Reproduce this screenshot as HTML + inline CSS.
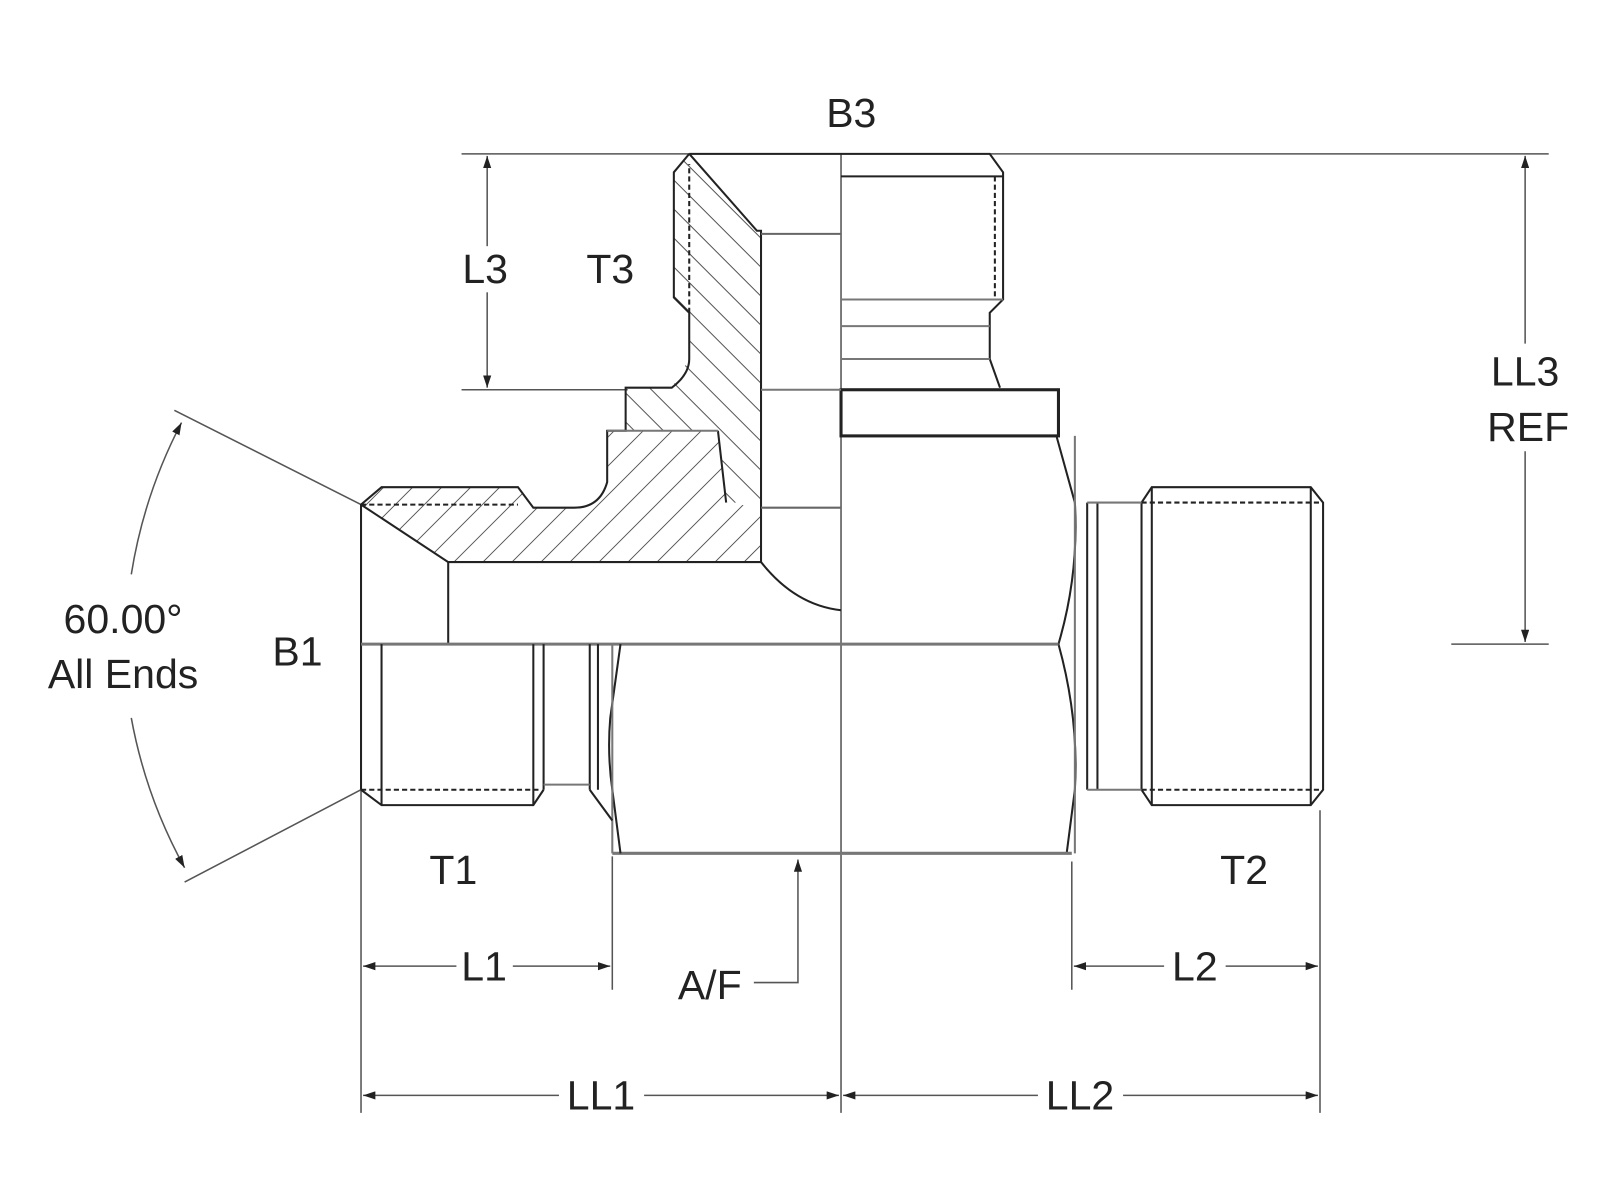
<!DOCTYPE html>
<html><head><meta charset="utf-8"><style>html,body{margin:0;padding:0;background:#fff}svg{display:block}text{font-family:"Liberation Sans",sans-serif;fill:#222}</style></head><body>
<svg width="1600" height="1200" viewBox="0 0 1560 1170" preserveAspectRatio="none">
<defs>
<pattern id="hA" patternUnits="userSpaceOnUse" width="20" height="20" patternTransform="rotate(-45)"><line x1="0" y1="0" x2="0" y2="20" stroke="#333" stroke-width="1.6"/></pattern>
<pattern id="hB" patternUnits="userSpaceOnUse" width="20" height="20" patternTransform="rotate(45)"><line x1="0" y1="0" x2="0" y2="20" stroke="#333" stroke-width="1.6"/></pattern>
<marker id="ar" markerWidth="12" markerHeight="8" refX="12" refY="4" orient="auto" markerUnits="userSpaceOnUse"><path d="M0,0 L12,4 L0,8 Z" fill="#222"/></marker>
</defs>
<g fill="none" stroke="#555" stroke-width="1.5">
<line x1="450" y1="150" x2="1510" y2="150"/>
<line x1="450" y1="380" x2="612" y2="380"/>
<line x1="820" y1="150" x2="820" y2="1085"/>
<line x1="1415" y1="628" x2="1510" y2="628"/>
<line x1="475" y1="240" x2="475" y2="152" marker-end="url(#ar)"/>
<line x1="475" y1="285" x2="475" y2="378" marker-end="url(#ar)"/>
<line x1="1487" y1="335" x2="1487" y2="152" marker-end="url(#ar)"/>
<line x1="1487" y1="440" x2="1487" y2="626" marker-end="url(#ar)"/>
<line x1="352" y1="770" x2="352" y2="1085"/>
<line x1="597" y1="835" x2="597" y2="965"/>
<line x1="1045" y1="840" x2="1045" y2="965"/>
<line x1="1287" y1="790" x2="1287" y2="1085"/>
<line x1="445" y1="942" x2="354" y2="942" marker-end="url(#ar)"/>
<line x1="500" y1="942" x2="595" y2="942" marker-end="url(#ar)"/>
<line x1="1135" y1="942" x2="1047" y2="942" marker-end="url(#ar)"/>
<line x1="1195" y1="942" x2="1285" y2="942" marker-end="url(#ar)"/>
<line x1="545" y1="1068" x2="354" y2="1068" marker-end="url(#ar)"/>
<line x1="628" y1="1068" x2="818" y2="1068" marker-end="url(#ar)"/>
<line x1="1012" y1="1068" x2="822" y2="1068" marker-end="url(#ar)"/>
<line x1="1095" y1="1068" x2="1285" y2="1068" marker-end="url(#ar)"/>
<polyline points="735,958 778,958 778,838" marker-end="url(#ar)"/>
<line x1="352" y1="492" x2="170" y2="400"/>
<line x1="352" y1="770" x2="180" y2="860"/>
<path d="M128,560 A483,483 0 0 1 177,412" marker-end="url(#ar)"/>
<path d="M128,700 A483,483 0 0 0 180,846" marker-end="url(#ar)"/>
</g>
<polygon points="672,150 657,168 657,290 672,305 672,350 655,378 610,378 610,420 700,420 708,490 742,490 742,225 725,190" fill="url(#hA)"/>
<polygon points="592,420 700,420 708,490 742,495 742,548 437,548 352,492 372,475 505,475 520,495 560,495 592,470" fill="url(#hB)"/>
<g fill="none" stroke="#222" stroke-width="2">
<path d="M672,150 L965,150 L978,168 L978,292 L965,305 L965,350 L975,378"/>
<path d="M672,150 L657,168 L657,290 L672,305 L672,350 Q672,365 655,378 L610,378 L610,420 L592,420 L592,470 Q585,495 560,495 L520,495 L505,475 L372,475 L352,492 L352,770"/>
<path d="M672,150 L738,225 L742,225 L742,548"/>
<line x1="672" y1="305" x2="672" y2="160" stroke-dasharray="5,3"/>
<line x1="970" y1="172" x2="970" y2="290" stroke-dasharray="5,3"/>
<line x1="742" y1="228" x2="820" y2="228" stroke="#666"/>
<line x1="820" y1="172" x2="978" y2="172"/>
<line x1="820" y1="292" x2="978" y2="292" stroke="#777"/>
<line x1="820" y1="318" x2="965" y2="318" stroke="#777"/>
<line x1="820" y1="350" x2="965" y2="350" stroke="#777"/>
<rect x="820" y="380" width="212" height="45" stroke-width="3"/>
<line x1="742" y1="380" x2="820" y2="380" stroke="#777"/>
<line x1="700" y1="420" x2="708" y2="490"/>
<line x1="592" y1="420" x2="700" y2="420" stroke="#777"/>
<line x1="742" y1="495" x2="820" y2="495" stroke="#666"/>
<path d="M352,492 L437,548 L742,548"/>
<line x1="437" y1="548" x2="437" y2="628"/>
<path d="M742,548 Q775,590 820,595"/>
<line x1="352" y1="492" x2="505" y2="492" stroke-dasharray="5,3"/>
<path d="M1030,425 L1048,490 Q1052,560 1032,628 Q1052,700 1048,770 L1040,832"/>
<line x1="1048" y1="425" x2="1048" y2="832" stroke="#777"/>
<line x1="352" y1="628" x2="1032" y2="628" stroke="#777" stroke-width="3"/>
<line x1="597" y1="832" x2="1045" y2="832" stroke="#777" stroke-width="3"/>
<path d="M605,628 L595,700 Q592,735 597,770 L605,832"/>
<line x1="597" y1="628" x2="597" y2="832" stroke="#777"/>
<line x1="372" y1="628" x2="372" y2="785"/>
<line x1="520" y1="628" x2="520" y2="785"/>
<line x1="530" y1="628" x2="530" y2="770"/>
<line x1="575" y1="628" x2="575" y2="770"/>
<line x1="583" y1="628" x2="583" y2="770"/>
<line x1="352" y1="770" x2="525" y2="770" stroke-dasharray="5,3"/>
<path d="M352,770 L372,785 L520,785 L530,770"/>
<line x1="530" y1="765" x2="575" y2="765" stroke="#777"/>
<path d="M575,770 L597,800"/>
<line x1="1060" y1="490" x2="1060" y2="770"/>
<line x1="1070" y1="490" x2="1070" y2="770"/>
<line x1="1113" y1="490" x2="1113" y2="770"/>
<line x1="1123" y1="475" x2="1123" y2="785"/>
<line x1="1278" y1="475" x2="1278" y2="785"/>
<path d="M1113,490 L1123,475 L1278,475 L1290,490 L1290,770 L1278,785 L1123,785 L1113,770"/>
<line x1="1113" y1="490" x2="1290" y2="490" stroke-dasharray="5,3"/>
<line x1="1113" y1="770" x2="1290" y2="770" stroke-dasharray="5,3"/>
<line x1="1060" y1="490" x2="1113" y2="490" stroke="#777"/>
<line x1="1060" y1="770" x2="1113" y2="770" stroke="#777"/>
</g>
<g font-size="40">
<text x="830" y="124" text-anchor="middle">B3</text>
<text x="473" y="276" text-anchor="middle">L3</text>
<text x="595" y="276" text-anchor="middle">T3</text>
<text x="1487" y="376" text-anchor="middle">LL3</text>
<text x="1490" y="430" text-anchor="middle">REF</text>
<text x="120" y="617" text-anchor="middle">60.00°</text>
<text x="120" y="671" text-anchor="middle">All Ends</text>
<text x="290" y="649" text-anchor="middle">B1</text>
<text x="442" y="862" text-anchor="middle">T1</text>
<text x="1213" y="862" text-anchor="middle">T2</text>
<text x="472" y="956" text-anchor="middle">L1</text>
<text x="1165" y="956" text-anchor="middle">L2</text>
<text x="692" y="974" text-anchor="middle">A/F</text>
<text x="586" y="1082" text-anchor="middle">LL1</text>
<text x="1053" y="1082" text-anchor="middle">LL2</text>
</g>
</svg>
</body></html>
